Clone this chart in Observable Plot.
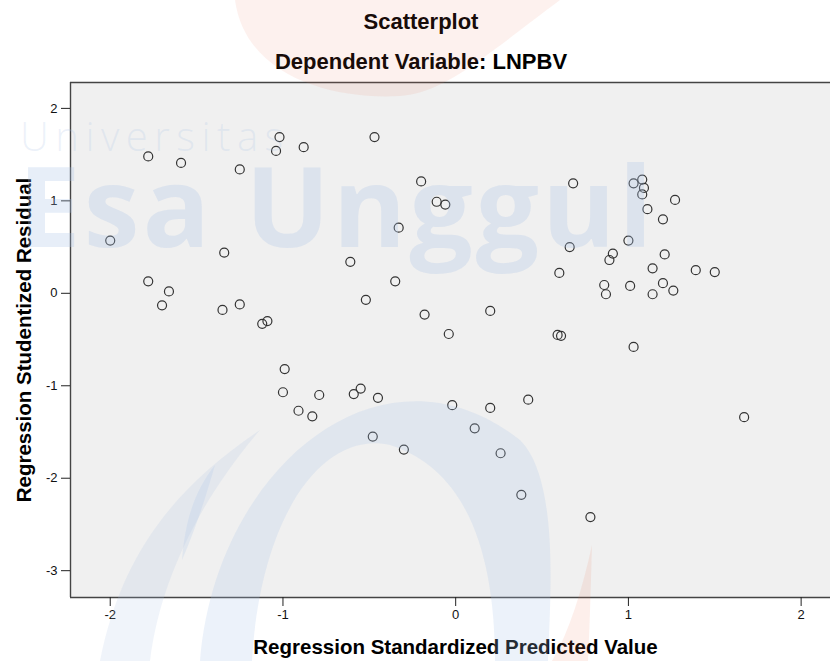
<!DOCTYPE html>
<html>
<head>
<meta charset="utf-8">
<script src="https://cdn.jsdelivr.net/npm/d3@7"></script>
<script src="https://cdn.jsdelivr.net/npm/@observablehq/plot@0.6"></script>
<style>
  html, body { margin: 0; padding: 0; background: #fff; }
  body { width: 830px; height: 661px; overflow: hidden; position: relative; font-family: "Liberation Sans", Arial, sans-serif; }
  #head { height: 81px; position: relative; }
  #title { position: absolute; left: 0; width: 842px; top: 11px; line-height: 22px; text-align: center; font-weight: bold; font-size: 22px; color: #000; white-space: nowrap; }
  #subtitle { position: absolute; left: 0; width: 842px; top: 51px; line-height: 22px; text-align: center; font-weight: bold; font-size: 22px; color: #000; white-space: nowrap; }
  #wm { position: absolute; left: 0; top: 0; width: 830px; height: 661px; pointer-events: none; overflow: hidden; }
  #wm svg { position: absolute; left: 0; top: 0; }
  #wm .u { position: absolute; left: 20px; top: 116px; line-height: 40px; font-size: 40px; letter-spacing: 6.5px; font-weight: 300; font-family: "Open Sans", sans-serif; color: rgba(170,195,230,0.22); white-space: nowrap; }
  #wm .e { position: absolute; left: 18px; top: 149px; line-height: 110px; font-size: 112px; font-weight: bold; font-family: "Open Sans", sans-serif; color: rgba(170,195,230,0.28); letter-spacing: 3px; white-space: nowrap; }
  #chart g[aria-label="x-axis tick label"], #chart g[aria-label="y-axis tick label"] { font-size: 13px; }
</style>
</head>
<body>
<div id="head">
  <div id="title">Scatterplot</div>
  <div id="subtitle">Dependent Variable: LNPBV</div>
</div>
<div id="chart"></div>
<div id="wm">
  <svg width="830" height="661">
    <path d="M 235,0 C 245,75 330,100 400,96 C 445,92 480,60 560,0 Z" fill="rgba(235,120,90,0.10)"/>
    <path d="M 200,661 C 215,470 380,330 520,440 C 560,480 550,600 548,661 L 495,661 C 495,560 470,470 390,445 C 320,430 260,520 252,661 Z" fill="rgba(170,195,230,0.22)"/>
    <path d="M 182,560 C 185,520 195,490 215,465 C 205,500 195,530 182,560 Z" fill="rgba(170,195,230,0.22)"/>
    <path d="M 100,661 C 120,560 170,490 260,430 C 200,500 160,580 150,661 Z" fill="rgba(170,195,230,0.18)"/>
    <path d="M 592,545 C 582,590 570,630 552,661 L 588,661 C 590,620 591,580 592,545 Z" fill="rgba(235,120,90,0.12)"/>
  </svg>
  <div class="u">Universitas</div><div class="e">Esa Unggul</div>
</div>
<script>
const predicted = [-2.00,-1.78,-1.59,-1.25,-1.02,-1.04,-1.34,-1.78,-1.66,-1.70,-1.35,-1.25,-1.12,-1.09,-0.88,-0.47,-0.20,-0.11,-0.06,-0.33,-0.61,-0.35,-0.52,-0.18,0.20,-0.04,0.68,1.03,1.08,1.09,1.08,1.27,1.11,1.20,1.00,0.66,0.91,0.89,1.21,0.60,1.14,1.39,1.50,0.86,1.01,1.20,0.87,1.14,1.26,0.59,0.61,-0.99,-1.00,-0.79,-0.91,-0.83,-0.59,-0.55,-0.45,-0.48,-0.30,-0.02,0.20,0.11,0.42,0.26,0.38,1.03,1.67,0.78];
const residual = [0.57,1.48,1.41,1.34,1.69,1.54,0.44,0.13,0.02,-0.13,-0.18,-0.12,-0.33,-0.30,1.58,1.69,1.21,0.99,0.96,0.71,0.34,0.13,-0.07,-0.23,-0.19,-0.44,1.19,1.19,1.23,1.14,1.07,1.01,0.91,0.80,0.57,0.50,0.43,0.36,0.42,0.22,0.27,0.25,0.23,0.09,0.08,0.11,-0.01,-0.01,0.03,-0.45,-0.46,-0.82,-1.07,-1.10,-1.27,-1.33,-1.09,-1.03,-1.13,-1.55,-1.69,-1.21,-1.24,-1.46,-1.15,-1.73,-2.18,-0.58,-1.34,-2.42];
const xTicks = [-2, -1, 0, 1, 2];
const yTicks = [-3, -2, -1, 0, 1, 2];
const xTitle = "Regression Standardized Predicted Value";
const yTitle = "Regression Studentized Residual";

const data = predicted.map((x, i) => ({x, y: residual[i]}));
const xDomain = [-2.23, 2.17];
const yDomain = [-3.29, 2.28];

const chart = Plot.plot({
  width: 830,
  height: 580,
  marginTop: 1,
  marginBottom: 64,
  marginLeft: 70,
  marginRight: 0,
  style: {fontFamily: "Liberation Sans, Arial, sans-serif", fontSize: "13px", color: "#111", background: "transparent", overflow: "visible"},
  x: {domain: xDomain, ticks: xTicks, tickFormat: d => String(d), label: null},
  y: {domain: yDomain, ticks: yTicks, tickFormat: d => String(d), label: null},
  marks: [
    Plot.frame({fill: "#f0f0f0", stroke: null}),
    Plot.dot(data, {x: "x", y: "y", r: 4.5, stroke: "#333", strokeWidth: 1.2, fill: "none"}),
    Plot.ruleY([yDomain[1]], {stroke: "#444", strokeWidth: 1.4}),
    Plot.ruleY([yDomain[0]], {stroke: "#444", strokeWidth: 1.4}),
    Plot.ruleX([xDomain[0]], {stroke: "#444", strokeWidth: 1.4}),
    Plot.axisX({ticks: xTicks, tickSize: 9, tickPadding: 3, tickFormat: d => String(d), stroke: "#222", fontSize: 13, label: null}),
    Plot.axisY({ticks: yTicks, tickSize: 9, tickPadding: 4, tickFormat: d => String(d), stroke: "#222", fontSize: 13, label: null}),
    Plot.text([xTitle], {frameAnchor: "bottom", dx: 5, dy: 56, fontWeight: "bold", fontSize: 20.5, fill: "#000"}),
    Plot.text([yTitle], {frameAnchor: "left", dx: -46, rotate: -90, textAnchor: "middle", fontWeight: "bold", fontSize: 20.5, fill: "#000"})
  ]
});
document.getElementById("chart").appendChild(chart);
d3.select(chart).selectAll('g[aria-label="x-axis tick label"], g[aria-label="y-axis tick label"]').attr("font-size", 13);
</script>
</body>
</html>
